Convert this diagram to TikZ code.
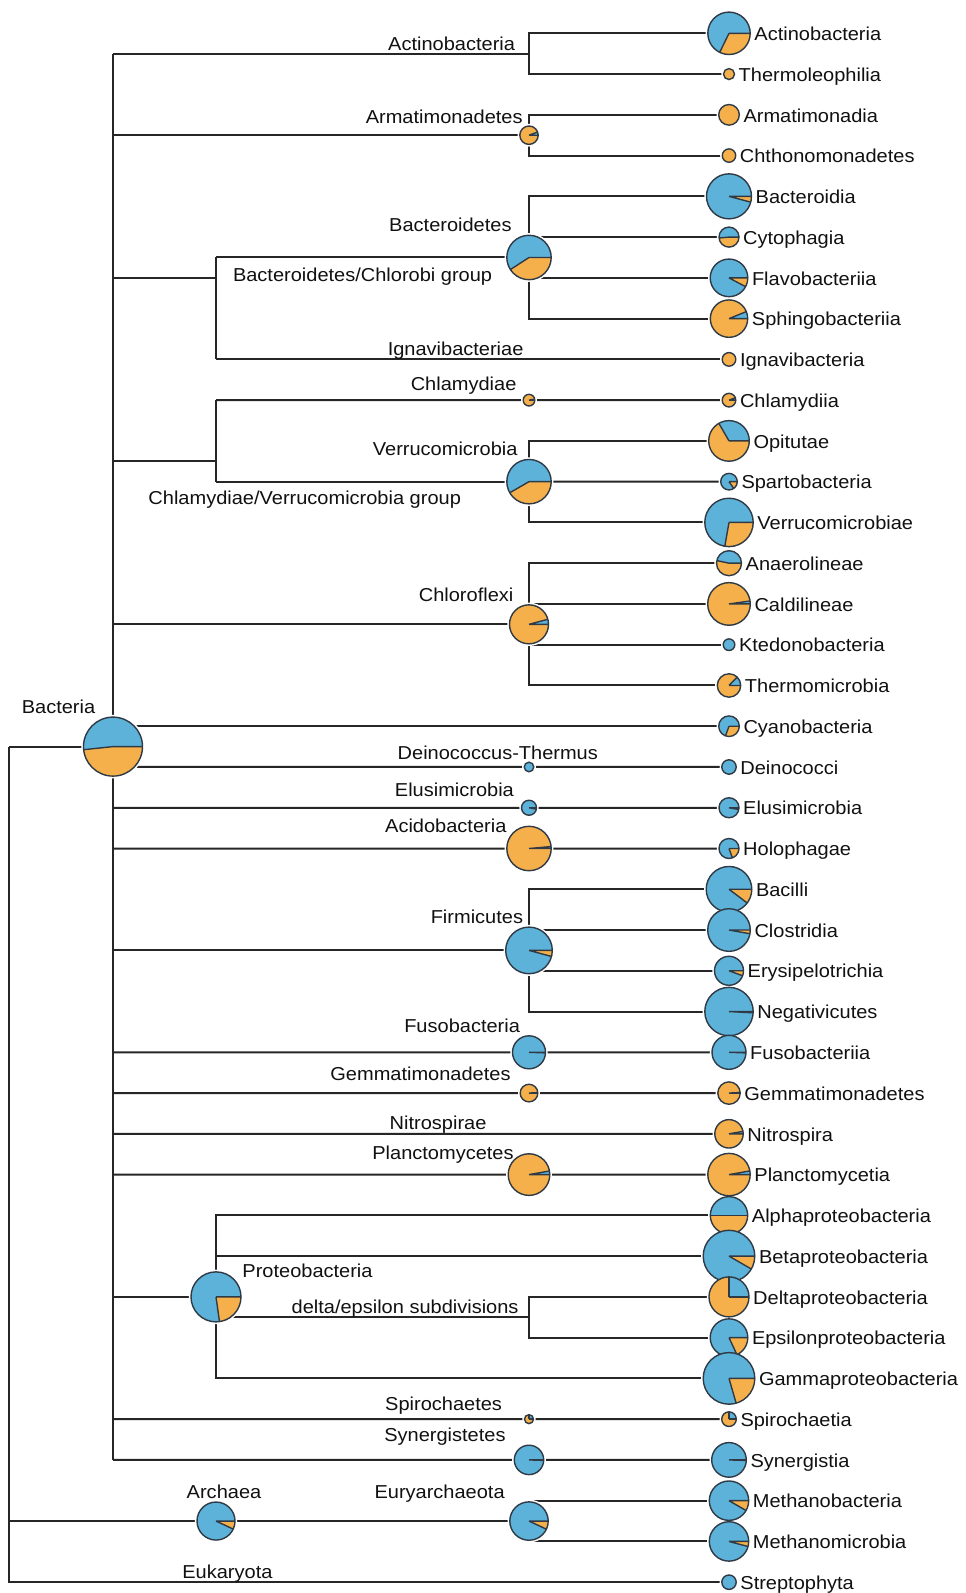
\documentclass[tikz,border=0pt]{standalone}
\usepackage{fontspec}
\setmainfont{Liberation Sans}[FakeStretch=1.07]
\usetikzlibrary{calc}
\definecolor{pieblue}{HTML}{5DB2DA}
\definecolor{pieorange}{HTML}{F5B04C}
\definecolor{treeline}{HTML}{262626}
\definecolor{pieedge}{HTML}{2F3A44}
\definecolor{txt}{HTML}{111111}
\newcommand\piehalo[2]{\pgfmathsetlengthmacro\rr{#2*1pt}\fill[white] (#1) circle[radius=\rr+2.2pt];}
\newcommand\drawpie[3]{%
 \pgfmathsetlengthmacro\rr{#2*1pt}%
 \ifdim #3 pt>0pt \fill[pieblue] (#1) -- ++(0:\rr) arc[start angle=0,end angle=#3,radius=\rr] -- cycle;\fi
 \ifdim #3 pt<360pt \fill[pieorange] (#1) -- ++(#3:\rr) arc[start angle=#3,end angle=360,radius=\rr] -- cycle;\fi
 \ifdim #3 pt>0pt \ifdim #3 pt<360pt \draw[pieedgeline] (#1) -- ++(0:\rr) (#1) -- ++(#3:\rr);\fi\fi
 \draw[pieedgeline] (#1) circle[radius=\rr];}
\def\leaflist{0/21.2/244/Actinobacteria,1/5.5/0/Thermoleophilia,2/10.3/0/Armatimonadia,3/6.7/0/Chthonomonadetes,4/22.5/345/Bacteroidia,5/10/185/Cytophagia,6/18.8/332/Flavobacteriia,7/18.7/22/Sphingobacteriia,8/6.8/0/Ignavibacteria,9/6.8/20/Chlamydiia,10/20.3/120/Opitutae,11/8.3/305/Spartobacteria,12/24.2/260/Verrucomicrobiae,13/12.5/168/Anaerolineae,14/21.3/8/Caldilineae,15/5.8/360/Ktedonobacteria,16/11.7/45/Thermomicrobia,17/10.3/250/Cyanobacteria,18/7.2/360/Deinococci,19/10/350/Elusimicrobia,20/10/290/Holophagae,21/22.8/323/Bacilli,22/21.3/350/Clostridia,23/14.5/340/Erysipelotrichia,24/24.2/357/Negativicutes,25/17/358/Fusobacteriia,26/11.2/3/Gemmatimonadetes,27/14.2/10/Nitrospira,28/21.2/10/Planctomycetia,29/18.7/180/Alphaproteobacteria,30/25.8/330/Betaproteobacteria,31/20/90/Deltaproteobacteria,32/18.8/295/Epsilonproteobacteria,33/25.8/286/Gammaproteobacteria,34/7.3/90/Spirochaetia,35/17.3/358/Synergistia,36/19.7/330/Methanobacteria,37/19.7/345/Methanomicrobia,38/7.2/360/Streptophyta}
\def\phylist{Arm/9.2/20,Bact/22.2/213,Chla/5.8/10,Verr/22.2/210,Chlo/19.5/15,Dein/4.8/360,Elus/7.5/350,Acid/22.2/5,Firm/23.3/345,Fuso/16.5/358,Gemm/8.8/3,Plan/20.8/10,Spir/4.5/90,Syne/14.7/358,Eury/19.2/335,Prot/25/278,Arch/19/335,Bac/29.5/186}
\begin{document}
\begin{tikzpicture}[x=1pt,y=-1pt,
  tree/.style={draw=treeline,line width=2pt},
  pieedgeline/.style={draw=pieedge,line width=1.4pt},
  lbl/.style={anchor=base,inner sep=0pt,text=txt,font=\fontsize{18.7}{20}\selectfont},
  leaflbl/.style={lbl,anchor=base west}]
\useasboundingbox (0,0) rectangle (966,1593);
\fill[white] (0,0) rectangle (966,1593);
% leaf coordinates
\foreach \ix/\rad/\ang/\txt in \leaflist {\coordinate (L\ix) at (729,{33.3+40.76*\ix});}
% internal coordinates
\coordinate (ActJ) at (529,53.68);
\coordinate (Arm) at (529,135.2);
\coordinate (Bact) at (529,257.48);
\coordinate (BCJ) at (216,277.86);
\coordinate (Chla) at (529,400.14);
\coordinate (Verr) at (529,481.66);
\coordinate (CVJ) at (216,461.28);
\coordinate (Chlo) at (529,624.32);
\coordinate (Bac) at (113,746.6);
\coordinate (RootJ) at (9,746.6);
\coordinate (Dein) at (529,766.98);
\coordinate (Elus) at (529,807.74);
\coordinate (Acid) at (529,848.5);
\coordinate (Firm) at (529,950.4);
\coordinate (Fuso) at (529,1052.3);
\coordinate (Gemm) at (529,1093.06);
\coordinate (NitJ) at (529,1133.82);
\coordinate (Plan) at (529,1174.58);
\coordinate (Prot) at (216,1296.86);
\coordinate (DEJ) at (529,1317.24);
\coordinate (Spir) at (529,1419.14);
\coordinate (Syne) at (529,1459.9);
\coordinate (Arch) at (216,1521.04);
\coordinate (Eury) at (529,1521.04);
% tree connectors
\draw[tree] (RootJ) -- (Bac);
\draw[tree] (RootJ) |- (L38);
\draw[tree] (RootJ |- Arch) -- (Arch) -- (Eury);
\draw[tree] (L36) -| (Eury) |- (L37);
\draw[tree] (Bac |- ActJ) -- (Bac |- Syne);
\draw[tree] (Bac |- ActJ) -- (ActJ);
\draw[tree] (L0) -| (ActJ) |- (L1);
\draw[tree] (Bac |- Arm) -- (Arm);
\draw[tree] (L2) -| (Arm) |- (L3);
\draw[tree] (Bac |- BCJ) -- (BCJ);
\draw[tree] (BCJ |- Bact) -- (BCJ |- L8);
\draw[tree] (BCJ |- Bact) -- (Bact);
\draw[tree] (BCJ |- L8) -- (L8);
\draw[tree] (L4) -| (Bact) |- (L7);
\draw[tree] (Bact |- L5) -- (L5);
\draw[tree] (Bact |- L6) -- (L6);
\draw[tree] (Bac |- CVJ) -- (CVJ);
\draw[tree] (CVJ |- L9) -- (CVJ |- Verr);
\draw[tree] (CVJ |- L9) -- (Chla) -- (L9);
\draw[tree] (CVJ |- Verr) -- (Verr);
\draw[tree] (L10) -| (Verr) |- (L12);
\draw[tree] (Verr) -- (L11);
\draw[tree] (Bac |- Chlo) -- (Chlo);
\draw[tree] (L13) -| (Chlo) |- (L16);
\draw[tree] (Chlo |- L14) -- (L14);
\draw[tree] (Chlo |- L15) -- (L15);
\draw[tree] (Bac |- L17) -- (L17);
\draw[tree] (Bac |- Dein) -- (Dein) -- (L18);
\draw[tree] (Bac |- Elus) -- (Elus) -- (L19);
\draw[tree] (Bac |- Acid) -- (Acid) -- (L20);
\draw[tree] (Bac |- Firm) -- (Firm);
\draw[tree] (L21) -| (Firm) |- (L24);
\draw[tree] (Firm |- L22) -- (L22);
\draw[tree] (Firm |- L23) -- (L23);
\draw[tree] (Bac |- Fuso) -- (Fuso) -- (L25);
\draw[tree] (Bac |- Gemm) -- (Gemm) -- (L26);
\draw[tree] (Bac |- NitJ) -- (NitJ) -- (L27);
\draw[tree] (Bac |- Plan) -- (Plan) -- (L28);
\draw[tree] (Bac |- Prot) -- (Prot);
\draw[tree] (L29) -| (Prot) |- (L33);
\draw[tree] (Prot |- L30) -- (L30);
\draw[tree] (Prot |- DEJ) -- (DEJ);
\draw[tree] (L31) -| (DEJ) |- (L32);
\draw[tree] (Bac |- Spir) -- (Spir) -- (L34);
\draw[tree] (Bac |- Syne) -- (Syne) -- (L35);
% pie halos
\foreach \ix/\rad/\ang/\txt in \leaflist {\piehalo{L\ix}{\rad}}
\foreach \nm/\rad/\ang in \phylist {\piehalo{\nm}{\rad}}
% pies
\foreach \ix/\rad/\ang/\txt in \leaflist {\drawpie{L\ix}{\rad}{\ang}}
\foreach \nm/\rad/\ang in \phylist {\drawpie{\nm}{\rad}{\ang}}
% leaf labels
\foreach \ix/\rad/\ang/\txt in \leaflist {\node[leaflbl] (T\ix) at ({729+\rad+4},{33.3+40.76*\ix+7.2}) {\txt};}
% internal labels
\node[lbl] (tAct) at (451.6,50) {Actinobacteria};
\node[lbl] (tArm) at (444.2,123.3) {Armatimonadetes};
\node[lbl] (tBact) at (450.4,231.7) {Bacteroidetes};
\node[lbl] (tBCG) at (362.6,281.7) {Bacteroidetes/Chlorobi group};
\node[lbl] (tIgn) at (455.6,355) {Ignavibacteriae};
\node[lbl] (tChla) at (463.6,390) {Chlamydiae};
\node[lbl] (tVerr) at (445.2,455) {Verrucomicrobia};
\node[lbl] (tCVG) at (304.7,504.3) {Chlamydiae/Verrucomicrobia group};
\node[lbl] (tChlo) at (466.1,601.7) {Chloroflexi};
\node[lbl] (tBac) at (58.5,713.3) {Bacteria};
\node[lbl] (tDein) at (497.8,759) {Deinococcus-Thermus};
\node[lbl] (tElus) at (454.4,796.7) {Elusimicrobia};
\node[lbl] (tAcid) at (445.8,832.7) {Acidobacteria};
\node[lbl] (tFirm) at (476.9,923.3) {Firmicutes};
\node[lbl] (tFuso) at (462.1,1032.7) {Fusobacteria};
\node[lbl] (tGemm) at (420.5,1080.7) {Gemmatimonadetes};
\node[lbl] (tNit) at (438.1,1129) {Nitrospirae};
\node[lbl] (tPlan) at (443,1159) {Planctomycetes};
\node[lbl] (tProt) at (307.5,1277.3) {Proteobacteria};
\node[lbl] (tDE) at (405.1,1313.7) {delta/epsilon subdivisions};
\node[lbl] (tSpir) at (443.6,1410.3) {Spirochaetes};
\node[lbl] (tSyne) at (444.9,1441.3) {Synergistetes};
\node[lbl] (tArch) at (224,1498) {Archaea};
\node[lbl] (tEury) at (439.6,1498) {Euryarchaeota};
\node[lbl] (tEuk) at (227.4,1578) {Eukaryota};
\end{tikzpicture}
\end{document}
